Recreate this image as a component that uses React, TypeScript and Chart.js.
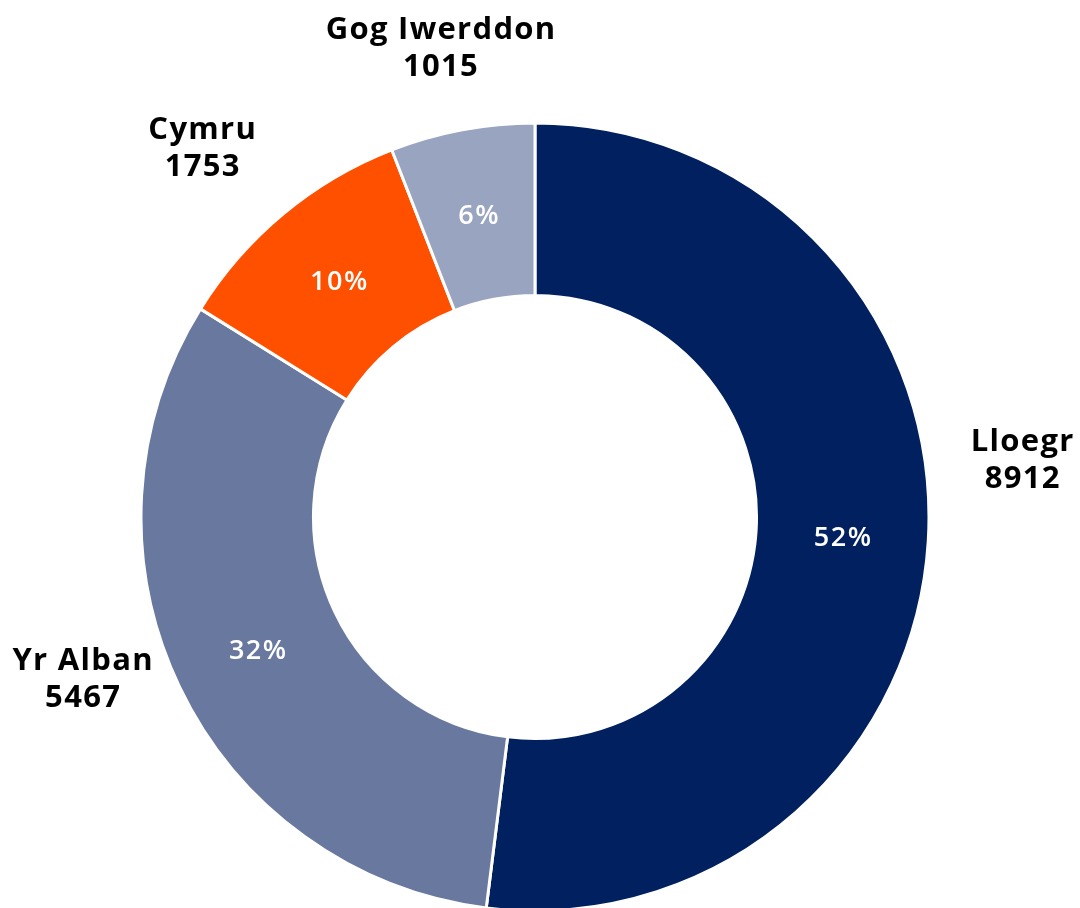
import React, { useEffect, useRef } from "react";
import { Chart, registerables } from "chart.js";

Chart.register(...registerables);

const categories = ["Lloegr", "Yr Alban", "Cymru", "Gog Iwerddon"];
const values = [8912, 5467, 1753, 1015];
const colors = ["#002060", "#68789F", "#FF5000", "#98A4C0"];

// label placement tweaks (style, not data)
const labelAngleNudgeDeg = [-10.2, 5.8, -2.4, -0.8];
const labelRadiusOffset = [96, 87, 103, 84];

const FONT = "'Open Sans', 'Noto Sans', sans-serif";

const labelPlugin = {
  id: "doughnutLabels",
  afterDatasetsDraw(chart: any) {
    const ctx = chart.ctx;
    const meta = chart.getDatasetMeta(0);
    const data = chart.data.datasets[0].data as number[];
    const total = data.reduce((a, b) => a + b, 0);
    meta.data.forEach((arc: any, i: number) => {
      const { x, y, startAngle, endAngle, innerRadius, outerRadius } = arc.getProps(
        ["x", "y", "startAngle", "endAngle", "innerRadius", "outerRadius"],
        true
      );
      const mid = (startAngle + endAngle) / 2;
      const rm = (innerRadius + outerRadius) / 2;
      ctx.save();
      ctx.textAlign = "center";
      ctx.textBaseline = "middle";
      ctx.fillStyle = "#ffffff";
      ctx.font = `600 27px ${FONT}`;
      (ctx as any).letterSpacing = "1.5px";
      const pct = Math.round((data[i] / total) * 100) + "%";
      ctx.fillText(pct, x + Math.cos(mid) * rm + 1, y + Math.sin(mid) * rm + 2);

      const a = mid + (labelAngleNudgeDeg[i] * Math.PI) / 180;
      const r = outerRadius + labelRadiusOffset[i];
      const lx = x + Math.cos(a) * r;
      const ly = y + Math.sin(a) * r;
      ctx.fillStyle = "#000000";
      ctx.font = `bold 31px ${FONT}`;
      (ctx as any).letterSpacing = "1.3px";
      ctx.fillText(String(chart.data.labels[i]), lx + 1, ly - 18);
      ctx.fillText(String(data[i]), lx + 1, ly + 19);
      ctx.restore();
    });
  },
};

export default function App() {
  const ref = useRef<HTMLCanvasElement | null>(null);
  useEffect(() => {
    document.body.style.margin = "0";
    const chart = new Chart(ref.current as HTMLCanvasElement, {
      type: "doughnut",
      data: {
        labels: categories,
        datasets: [
          {
            data: values,
            backgroundColor: colors,
            borderColor: "#ffffff",
            borderWidth: 3,
          },
        ],
      },
      options: {
        responsive: false,
        animation: false,
        radius: 394,
        cutout: 219,
        layout: { padding: { left: 0, right: 10, top: 126, bottom: 0 } },
        plugins: {
          legend: { display: false },
          tooltip: { enabled: false },
        },
      } as any,
      plugins: [labelPlugin],
    });
    return () => chart.destroy();
  }, []);
  return (
    <div style={{ position: "fixed", left: 0, top: 0, width: 1080, height: 908, background: "#fff" }}>
      <canvas ref={ref} width={1080} height={908} style={{ width: 1080, height: 908 }} />
    </div>
  );
}
